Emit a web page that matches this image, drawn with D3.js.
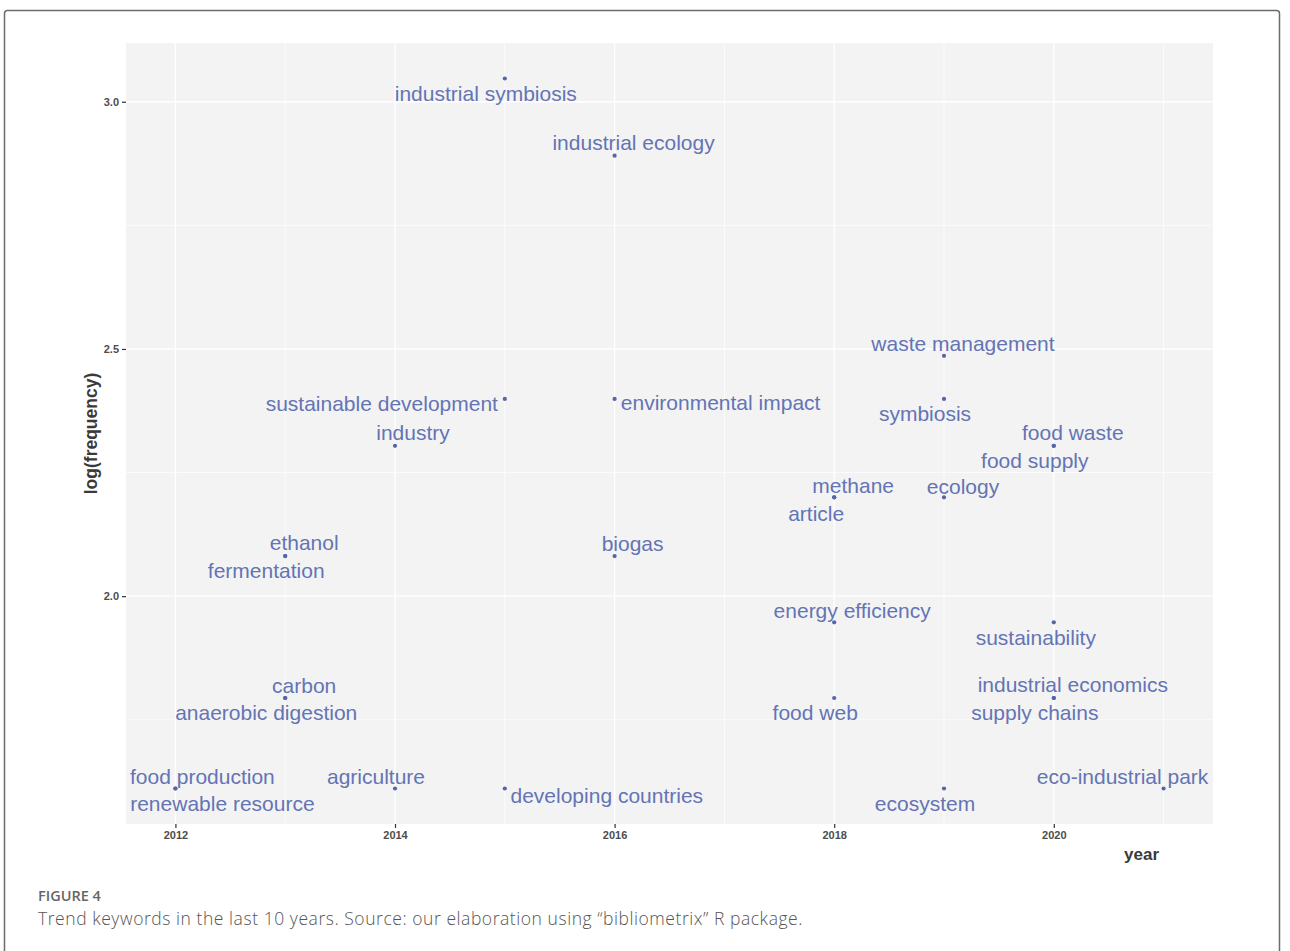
<!DOCTYPE html>
<html>
<head>
<meta charset="utf-8">
<script src="https://cdn.jsdelivr.net/npm/d3@7"></script>
<style>
  body { margin: 0; background: #fff; }
  svg { display: block; }
</style>
</head>
<body>
<div id="container"></div>
<script>
// trend topics: keyword, median year, log(frequency)
const terms = [
  "industrial symbiosis", "industrial ecology", "waste management",
  "sustainable development", "environmental impact", "symbiosis",
  "industry", "food waste", "food supply",
  "methane", "article", "ecology",
  "ethanol", "fermentation", "biogas",
  "energy efficiency", "sustainability",
  "carbon", "anaerobic digestion", "food web", "industrial economics", "supply chains",
  "food production", "renewable resource", "agriculture", "developing countries", "ecosystem", "eco-industrial park"
];
const years = [
  2015, 2016, 2019,
  2015, 2016, 2019,
  2014, 2020, 2020,
  2018, 2018, 2019,
  2013, 2013, 2016,
  2018, 2020,
  2013, 2013, 2018, 2020, 2020,
  2012, 2012, 2014, 2015, 2019, 2021
];
const logFreq = [
  3.047, 2.891, 2.486,
  2.399, 2.399, 2.399,
  2.304, 2.304, 2.304,
  2.200, 2.200, 2.200,
  2.081, 2.081, 2.081,
  1.947, 1.947,
  1.794, 1.794, 1.794, 1.794, 1.794,
  1.611, 1.611, 1.611, 1.611, 1.611, 1.611
];
const xTicks = [2012, 2014, 2016, 2018, 2020];
const yTicks = [2.0, 2.5, 3.0];

// label nudges (pixels, label centre relative to point), like ggrepel output
const nudge = {
  "industrial symbiosis": [-19, 15], "industrial ecology": [19, -13], "waste management": [19, -12],
  "sustainable development": [-123, 5], "environmental impact": [106, 4], "symbiosis": [-19, 15],
  "industry": [18, -13], "food waste": [19, -13], "food supply": [-19, 15],
  "methane": [19, -12], "article": [-18, 16], "ecology": [19, -11],
  "ethanol": [19, -13], "fermentation": [-19, 15], "biogas": [18, -12],
  "energy efficiency": [18, -12], "sustainability": [-18, 15],
  "carbon": [19, -12], "anaerobic digestion": [-19, 15], "food web": [-19, 15],
  "industrial economics": [19, -13], "supply chains": [-19, 15],
  "food production": [27, -12], "renewable resource": [47, 15], "agriculture": [-19, -12],
  "developing countries": [102, 7], "ecosystem": [-19, 15], "eco-industrial park": [-41, -12]
};

const data = terms.map((t, i) => ({ term: t, year: years[i], value: logFreq[i] }));

const width = 1290, height = 951;
const panel = { left: 126, right: 1213, top: 43, bottom: 824 };
const sans = "'Liberation Sans', Arial, sans-serif";

const svg = d3.select("#container").append("svg")
  .attr("width", width)
  .attr("height", height);

// figure frame
svg.append("rect")
  .attr("x", 4.5).attr("y", 10.5)
  .attr("width", 1275).attr("height", 960)
  .attr("rx", 3)
  .attr("fill", "none")
  .attr("stroke", "#6b6b6b")
  .attr("stroke-width", 1.5);

// ggplot-like expansion of 5%
const xExt = d3.extent(years), yExt = d3.extent(logFreq);
const xPad = (xExt[1] - xExt[0]) * 0.05, yPad = (yExt[1] - yExt[0]) * 0.05;

const x = d3.scaleLinear()
  .domain([xExt[0] - xPad, xExt[1] + xPad])
  .range([panel.left, panel.right]);
const y = d3.scaleLinear()
  .domain([yExt[0] - yPad, yExt[1] + yPad])
  .range([panel.bottom, panel.top]);

svg.append("rect")
  .attr("x", panel.left).attr("y", panel.top)
  .attr("width", panel.right - panel.left).attr("height", panel.bottom - panel.top)
  .attr("fill", "#f3f3f3");

const grid = svg.append("g").attr("stroke", "#fff");
const xMinor = d3.range(2011, 2022, 2).filter(v => x(v) > panel.left);
const yMinor = [1.75, 2.25, 2.75];
grid.selectAll(".xmin").data(xMinor).join("line")
  .attr("x1", d => x(d)).attr("x2", d => x(d))
  .attr("y1", panel.top).attr("y2", panel.bottom).attr("stroke-width", 0.7);
grid.selectAll(".ymin").data(yMinor).join("line")
  .attr("y1", d => y(d)).attr("y2", d => y(d))
  .attr("x1", panel.left).attr("x2", panel.right).attr("stroke-width", 0.7);
grid.selectAll(".xmaj").data(xTicks).join("line")
  .attr("x1", d => x(d)).attr("x2", d => x(d))
  .attr("y1", panel.top).attr("y2", panel.bottom).attr("stroke-width", 1.4);
grid.selectAll(".ymaj").data(yTicks).join("line")
  .attr("y1", d => y(d)).attr("y2", d => y(d))
  .attr("x1", panel.left).attr("x2", panel.right).attr("stroke-width", 1.4);

// axes
const xAxis = svg.append("g")
  .attr("transform", `translate(0,${panel.bottom})`)
  .call(d3.axisBottom(x).tickValues(xTicks).tickFormat(d3.format("d")).tickSize(4).tickPadding(3));
const yAxis = svg.append("g")
  .attr("transform", `translate(${panel.left},0)`)
  .call(d3.axisLeft(y).tickValues(yTicks).tickFormat(d3.format(".1f")).tickSize(4).tickPadding(3));
[xAxis, yAxis].forEach(a => {
  a.select(".domain").remove();
  a.selectAll(".tick line").attr("stroke", "#333").attr("stroke-width", 1.2);
  a.selectAll(".tick text")
    .attr("fill", "#4d4d4d")
    .attr("font-family", sans)
    .attr("font-size", 11)
    .attr("font-weight", "bold");
});

svg.append("text")
  .attr("transform", `translate(97,${(panel.top + panel.bottom) / 2}) rotate(-90)`)
  .attr("text-anchor", "middle")
  .attr("font-family", sans)
  .attr("font-size", 17.5).attr("font-weight", "bold")
  .attr("fill", "#3a3a3a")
  .text("log(frequency)");

svg.append("text")
  .attr("x", 1159).attr("y", 860)
  .attr("text-anchor", "end")
  .attr("font-family", sans)
  .attr("font-size", 17).attr("font-weight", "bold")
  .attr("fill", "#3a3a3a")
  .text("year");

// points
svg.append("g").selectAll("circle").data(data).join("circle")
  .attr("cx", d => x(d.year))
  .attr("cy", d => y(d.value))
  .attr("r", 2.1)
  .attr("fill", "#5565a8");

// labels
svg.append("g").selectAll("text").data(data).join("text")
  .attr("x", d => x(d.year) + nudge[d.term][0])
  .attr("y", d => y(d.value) + nudge[d.term][1])
  .attr("dy", "0.35em")
  .attr("text-anchor", "middle")
  .attr("font-family", sans)
  .attr("font-size", 21)
  .attr("fill", "#6474b4")
  .text(d => d.term);

// caption
svg.append("text")
  .attr("x", 38).attr("y", 901)
  .attr("font-family", "'Open Sans', sans-serif")
  .attr("font-size", 14.5)
  .attr("font-weight", 600)
  .attr("fill", "#666")
  .text("FIGURE 4");
svg.append("text")
  .attr("x", 38).attr("y", 925)
  .attr("font-family", "'Open Sans', sans-serif")
  .attr("font-size", 17.5)
  .attr("letter-spacing", 0.55)
  .attr("font-weight", 300)
  .attr("fill", "#555")
  .text("Trend keywords in the last 10 years. Source: our elaboration using \u201cbibliometrix\u201d R package.");
</script>
</body>
</html>
